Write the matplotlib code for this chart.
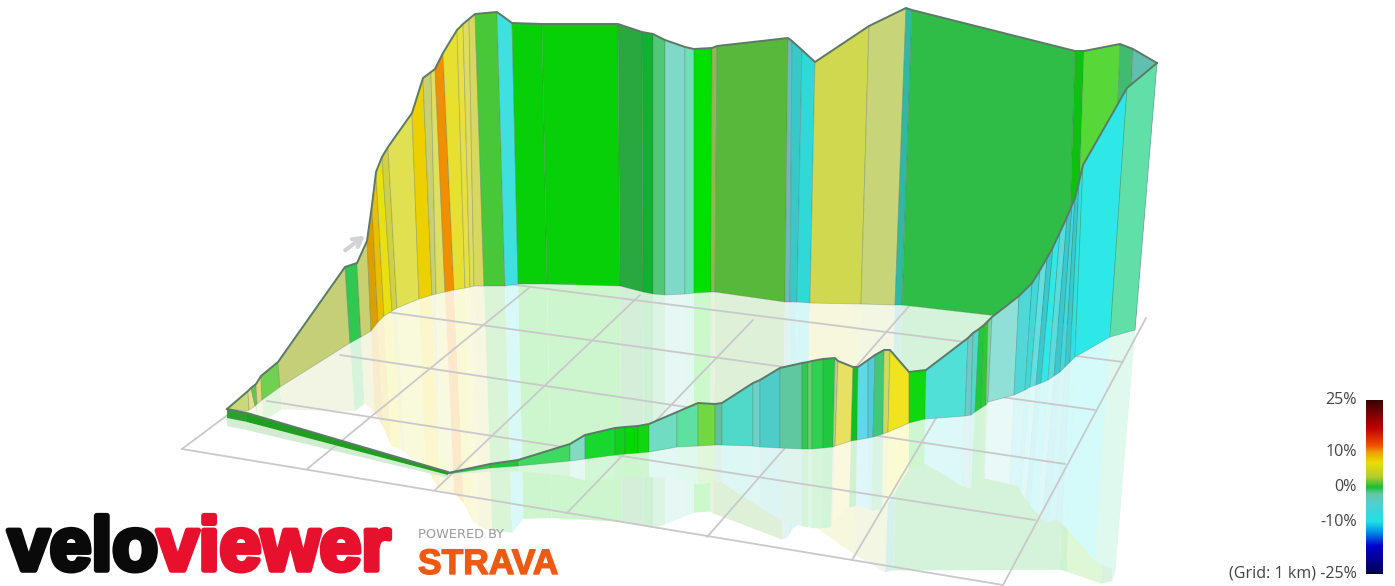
import numpy as np
import matplotlib
matplotlib.use("Agg")
import matplotlib.pyplot as plt
import matplotlib.patheffects as pe
from matplotlib.colors import LinearSegmentedColormap, to_rgb

# ---- route as projected on the picture: wall crest and wall foot ----
far_top_x = [227, 248, 251, 256, 261, 278, 345, 357, 367, 372, 376, 382, 388, 412, 423, 431, 435, 443, 457, 463, 469, 475, 497, 512, 542, 618, 642, 653, 665, 685, 694, 712, 717, 788, 792, 802, 815, 869, 906, 912, 1075, 1084, 1120, 1133, 1157]
far_top_y = [409, 391, 388, 384, 376, 362, 267, 263, 241, 205, 172, 157, 147, 113, 78, 72, 69, 53, 30, 24, 19, 14, 12, 23, 24, 24, 32, 34, 40, 47, 49, 48, 46, 38, 41, 50, 62, 26, 8, 10, 51, 51, 44, 49, 63]
far_base_x = [247, 249, 255, 257, 262, 280, 350, 361, 371, 378, 384, 392, 397, 419, 432, 436, 445, 454, 465, 470, 474, 484, 505, 518, 547, 620, 643, 653, 665, 685, 694, 711, 715, 785, 790, 797, 810, 861, 895, 902, 1067, 1075, 1110, 1122, 1135]
far_base_y = [411, 410, 406, 404, 400, 387, 343, 337, 331, 322, 316, 311, 308, 299, 295, 294, 292, 290, 288, 287, 286, 286, 286, 284, 284, 286, 292, 294, 295, 294, 293, 292, 292, 302, 302, 302, 303, 304, 305, 305, 324, 325, 328, 329, 330]
far_colour = ['#c9d97a', '#e4e08c', '#5cc850', '#dcd878', '#70d050', '#c4cf78', '#30c850', '#c8d070', '#d9a000', '#e8c000', '#e8e010', '#d0d040', '#e0e050', '#ecd000', '#c8d070', '#e0e060', '#f09000', '#e8e030', '#e8e040', '#e0dc60', '#d8d860', '#48c838', '#40e0e0', '#08d008', '#08d008', '#2aa840', '#10b030', '#50c878', '#80d8c8', '#70e0b8', '#00e000', '#90b850', '#58b83c', '#70b8c0', '#38c8c8', '#30d8d8', '#d0d850', '#c8d478', '#30b8a0', '#2fbd47', '#10c010', '#58d838', '#40bc70', '#60c0b0']

near_top_x = [448, 490, 518, 570, 585, 615, 625, 638, 649, 677, 698, 715, 722, 753, 760, 780, 802, 808, 812, 823, 835, 838, 853, 858, 868, 875, 884, 890, 909, 926, 968, 973, 979, 984, 988, 992, 1019, 1032, 1040, 1047, 1053, 1060, 1067, 1072, 1075, 1079, 1083, 1127, 1157]
near_top_y = [473, 464, 460, 444, 435, 428, 427, 426, 424, 412, 403, 404, 403, 383, 380, 368, 363, 362, 361, 359, 358, 361, 367, 367, 360, 355, 350, 350, 372, 370, 338, 333, 329, 325, 321, 317, 296, 283, 270, 258, 247, 232, 217, 205, 198, 182, 165, 88, 63]
near_base_x = [448, 490, 518, 570, 585, 615, 625, 638, 649, 677, 698, 715, 722, 753, 760, 780, 802, 808, 812, 823, 833, 835, 851, 857, 868, 873, 883, 888, 909, 925, 965, 971, 975, 981, 986, 988, 1014, 1025, 1030, 1036, 1041, 1048, 1054, 1060, 1065, 1070, 1075, 1110, 1135]
near_base_y = [474, 468, 466, 461, 459, 455, 454, 453, 452, 447, 446, 445, 445, 446, 447, 448, 449, 449, 449, 448, 447, 446, 441, 440, 438, 437, 434, 432, 423, 419, 416, 415, 412, 408, 405, 402, 395, 390, 387, 385, 383, 380, 376, 372, 367, 362, 357, 337, 330]
near_colour = ['#30c848', '#20c830', '#40d860', '#80dcc0', '#18d830', '#10d020', '#00d800', '#10d810', '#70dcc0', '#60e0a0', '#70d840', '#60c0a0', '#50d8c8', '#70d0c8', '#50ccc8', '#60c8a0', '#30c850', '#60d070', '#30d050', '#20c840', '#c0c890', '#e8e060', '#10c020', '#60d8e8', '#50ccd8', '#40c878', '#d0d860', '#f0e420', '#10d810', '#50e0d8', '#70c8c8', '#50d8c8', '#20c840', '#30c830', '#80d0a0', '#90e0d8', '#50d8d8', '#40d8d8', '#60e0e0', '#38c8d0', '#30e8e8', '#58dce0', '#38c8d0', '#40d8e0', '#38c8d0', '#30e0e4', '#2ee8e8', '#60e0a8']

low_top_x = [227, 247, 448]
low_top_y = [409, 413, 472]
low_base_x = [227, 247, 448]
low_base_y = [418, 422, 475]
low_colour = ['#2ca02c', '#1f9e20']

# ---- ground grid (1 km cells) ----
grid_x0 = [182, 267, 340, 387, 500, 182, 307, 435, 567, 707, 852, 1003]
grid_y0 = [449, 401, 355, 312, 283, 449, 469, 490, 513, 537, 560, 585]
grid_x1 = [1003, 1035, 1065, 1095, 1123, 395, 530, 640, 753, 910, 1000, 1146]
grid_y1 = [585, 520, 464, 410, 362, 290, 287, 295, 320, 305, 310, 318]

# ---- gradient colour scale ----
scale_pct = [-25, -17, -13, -10, -5, -2, 0, 3, 7, 10, 12, 17, 25]
scale_col = ['#000050', '#0000d0', '#0090e8', '#20e0e8', '#50d0d0', '#60c8a8', '#18c030', '#b8cc30', '#e8e000', '#f0a000', '#f05000', '#c00000', '#3a0000']
scale_ticks = [25, 10, 0, -10, -25]
scale_labels = ['25%', '10%', '0%', '-10%', '(Grid: 1 km) -25%']

MIRROR = 0.9
GHOST = 0.2
FONT = ['Open Sans', 'DejaVu Sans']

fig = plt.figure(figsize=(13.95, 5.86), dpi=100, facecolor='white')
ax = fig.add_axes([0, 0, 1, 1])


def strips(tx, ty, bx, by, cols, **kw):
    for i, c in enumerate(cols):
        ax.fill([tx[i], tx[i + 1], bx[i + 1], bx[i]],
                [ty[i], ty[i + 1], by[i + 1], by[i]], facecolor=c, **kw)


def mirror(t, b):
    t, b = np.asarray(t, float), np.asarray(b, float)
    return b + MIRROR * (b - t)


def pale(c):
    return tuple(1 - GHOST * (1 - v) for v in to_rgb(c))


# reflections on the ground: the nearer one hides the farther one
for tx, ty, bx, by, cols in [(far_top_x, far_top_y, far_base_x, far_base_y, far_colour),
                             (low_top_x, low_top_y, low_base_x, low_base_y, low_colour),
                             (near_top_x, near_top_y, near_base_x, near_base_y, near_colour)]:
    strips(bx, by, mirror(tx, bx), mirror(ty, by), [pale(c) for c in cols],
           edgecolor='none', lw=0, zorder=1, antialiased=True)

# grid
for x0, y0, x1, y1 in zip(grid_x0, grid_y0, grid_x1, grid_y1):
    ax.plot([x0, x1], [y0, y1], color='#c9c9cb', lw=1.3, zorder=2, solid_capstyle='round')

# north arrow
ax.annotate('', xy=(367, 234), xytext=(343, 252), zorder=2,
            arrowprops=dict(arrowstyle='->,head_length=0.6,head_width=0.35',
                            color='#d3d3d6', lw=3))

# walls
edge = dict(edgecolor='#4f6f5c50', lw=0.6)
strips(far_top_x, far_top_y, far_base_x, far_base_y, far_colour, zorder=3, **edge)
strips(low_top_x, low_top_y, low_base_x, low_base_y, low_colour, zorder=3, lw=0)
strips(near_top_x, near_top_y, near_base_x, near_base_y, near_colour, zorder=4, **edge)

line = dict(color='#5c7a68', lw=1.4, zorder=5, solid_joinstyle='round')
ax.plot(far_top_x, far_top_y, **line)
ax.plot(near_top_x, near_top_y, **line)
ax.plot(low_top_x, low_top_y, **line)

# colour scale
cmap = LinearSegmentedColormap.from_list(
    'grad', [((p + 25) / 50, c) for p, c in zip(scale_pct, scale_col)])
ax.imshow(np.linspace(25, -25, 256)[:, None], cmap=cmap, vmin=-25, vmax=25,
          extent=(1366, 1383, 574, 400), aspect='auto', zorder=6)
for p, lab in zip(scale_ticks, scale_labels):
    ax.text(1357, 487 - p * 3.48, lab, ha='right', va='center', fontsize=11.6,
            color='#444444', family=FONT)

# logos
for word, x, c in [('velo', 8, '#0a0a0a'), ('viewer', 157, '#e8112d')]:
    ax.text(x, 570, word, ha='left', va='baseline', fontsize=54, fontweight='bold',
            family='Liberation Sans', color=c, zorder=7,
            path_effects=[pe.withStroke(linewidth=4, foreground=c)])
ax.text(418, 535, 'POWERED BY', ha='left', va='center', fontsize=9.3, color='#9a9a9a',
        family='DejaVu Sans')
ax.text(418, 574, 'STRAVA', ha='left', va='baseline', fontsize=25.5, fontweight='bold',
        family='Liberation Sans', color='#ee5a12',
        path_effects=[pe.withStroke(linewidth=1, foreground='#ee5a12')])

ax.set_xlim(0, 1395)
ax.set_ylim(586, 0)
ax.axis('off')
fig.savefig('out.png', dpi=100, facecolor='white')
